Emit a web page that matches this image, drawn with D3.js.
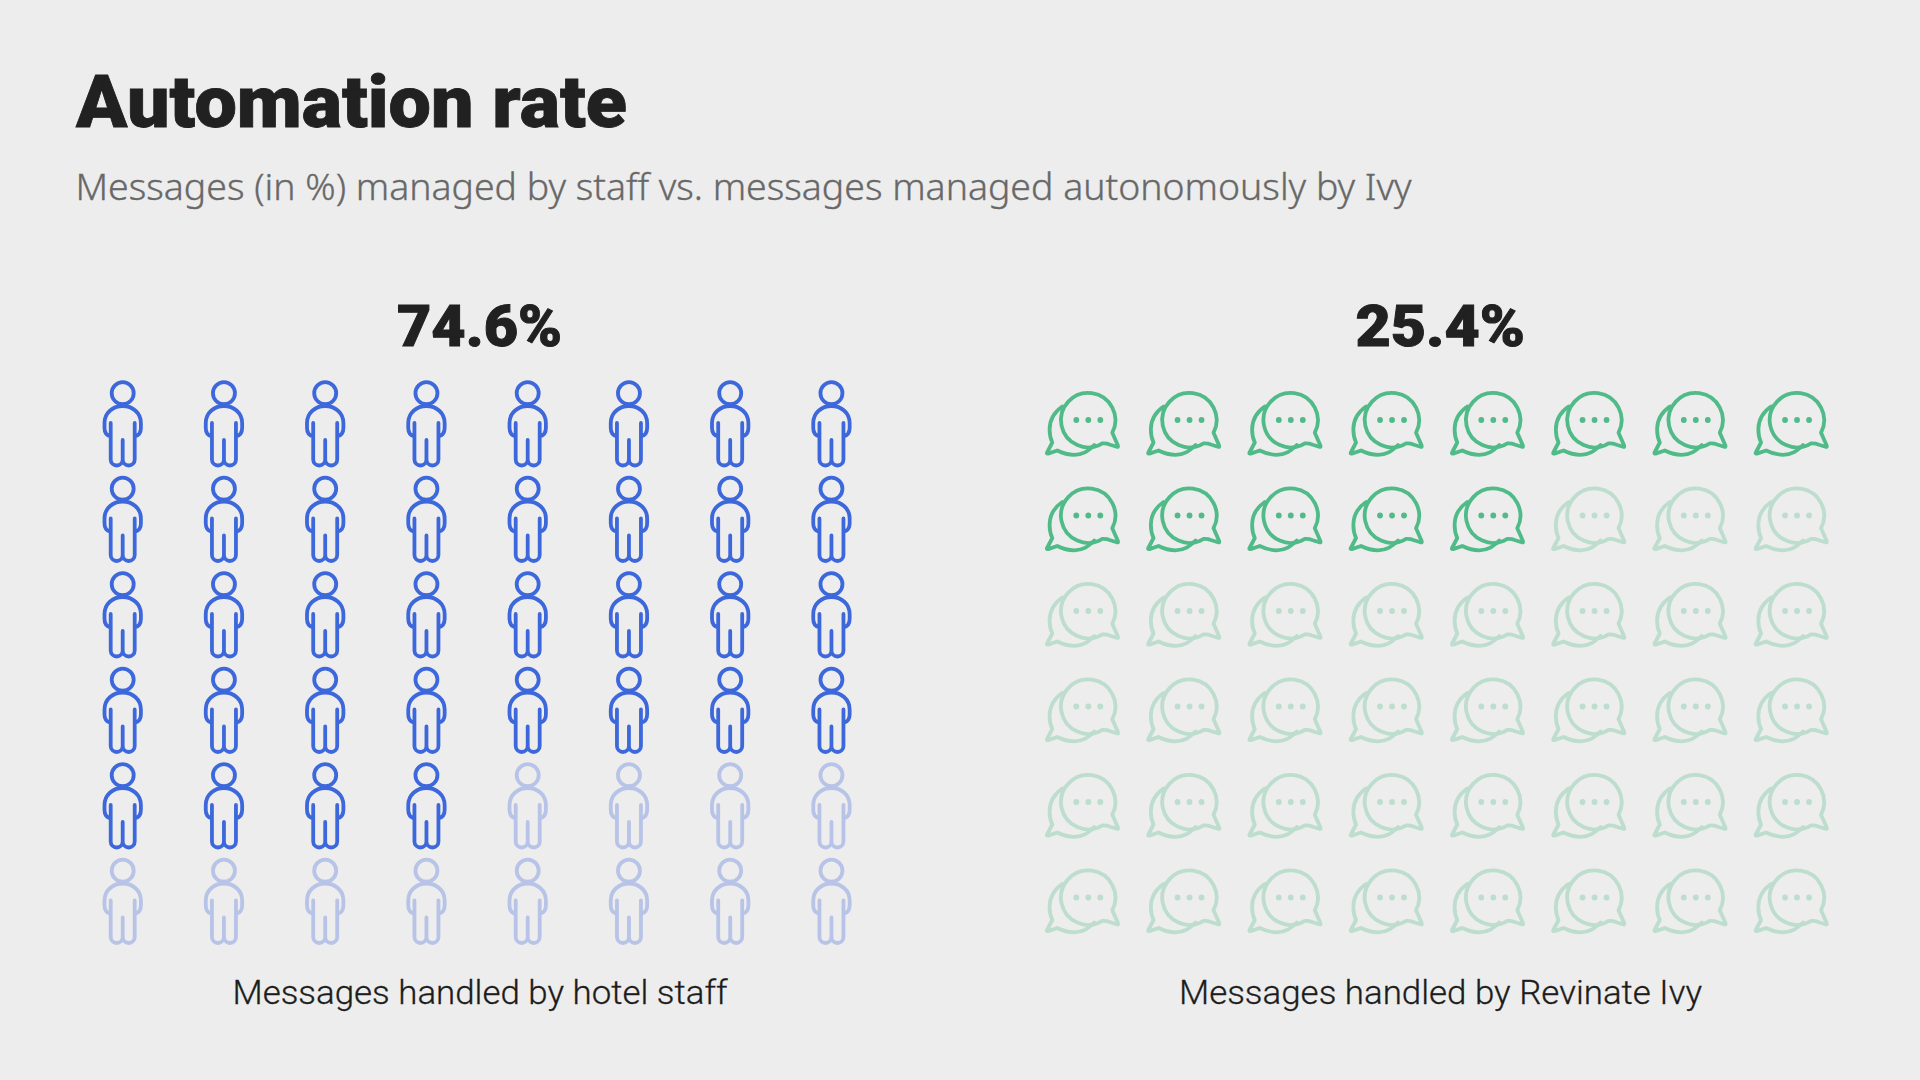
<!DOCTYPE html>
<html><head><meta charset="utf-8">
<script src="https://cdn.jsdelivr.net/npm/d3@7"></script>
<style>html,body{margin:0;padding:0;background:#ededed}svg{display:block}</style>
</head><body>
<script>
const titleText = "Automation rate";
const subtitleText = "Messages (in %) managed by staff vs. messages managed autonomously by Ivy";
const columns = d3.range(8);
const rows = d3.range(6);
const staffShare = "74.6%";
const ivyShare = "25.4%";
const staffFilled = 36;
const ivyFilled = 13;
const staffLabel = "Messages handled by hotel staff";
const ivyLabel = "Messages handled by Revinate Ivy";

const svg = d3.select("body").append("svg").attr("width",1920).attr("height",1080);
svg.append("rect").attr("width",1920).attr("height",1080).attr("fill","#ededed");

const heavy = "Roboto", body = "'Noto Sans'", mid = "Roboto";
function label(t,o){
  const s = svg.append("text").text(t).attr("x",o.x).attr("y",o.y)
    .attr("font-family",o.f).attr("font-size",o.s).attr("font-weight",o.w).attr("fill",o.c)
    .attr("stroke",o.sw?o.c:"none").attr("stroke-width",o.sw||0)
    .attr("textLength",o.l).attr("lengthAdjust","spacingAndGlyphs");
  return s;
}
label(titleText,{x:76,y:127,f:heavy,s:73,w:900,c:"#212121",l:551,sw:0.8});
label(subtitleText,{x:75.5,y:200,f:body,s:36.5,w:300,c:"#686868",l:1336,sw:0.35});
label(staffShare,{x:397,y:346,f:heavy,s:58,w:900,c:"#212121",l:165,sw:1});
label(ivyShare,{x:1355.5,y:346,f:heavy,s:58,w:900,c:"#212121",l:169.5,sw:1});
label(staffLabel,{x:232.5,y:1004,f:mid,s:34,w:300,c:"#1c1c1c",l:495,sw:0.3});
label(ivyLabel,{x:1179,y:1004,f:mid,s:34,w:300,c:"#1c1c1c",l:523,sw:0.3});

const xStaff = d3.scalePoint().domain(columns).range([122.7,122.7+7*101.25]);
const xIvy = d3.scalePoint().domain(columns).range([1088.3,1088.3+7*101.25]);
const yStaff = d3.scalePoint().domain(rows).range([381,381+5*95.5]);
const yIvy = d3.scalePoint().domain(rows).range([420,420+5*95.5]);

const personPath = "M-12,42L-12,78.5A6,6 0 0 0 0,78.5L0,59M0,78.5A6,6 0 0 0 12,78.5L12,42"
 +"M-12,55.5C-16,54.5 -18.2,52 -18.2,47L-18.2,42C-18.2,32 -10,25 0,25C10,25 18.2,32 18.2,42L18.2,47C18.2,52 16,54.5 12,55.5";
const bubbleFront = "M14,23.4A27.2,27.2 0 1 1 24,12.7L29.6,25.6Q30.2,27.4 28.4,26.8L22,24.7Q18,23.1 14,23.4Z";
const bubbleBack = "M-26,-13.5C-34,-8 -38.7,0 -38.7,9.5C-38.7,15 -37.7,19 -36,22.5L-41.2,32.5Q-42,34 -40.2,33.6L-31,30.5C-26,33 -20,34.8 -14,34.8C-5,34.8 0,31 6,25";
const dotsX = [-12,0,12];

const cellsOf = n => rows.flatMap((r,ri)=>columns.map((c,ci)=>({r,c,on:ri*columns.length+ci<n})));

const staffG = svg.append("g").selectAll("g").data(cellsOf(staffFilled)).join("g")
  .attr("transform",d=>`translate(${xStaff(d.c)},${yStaff(d.r)})`)
  .attr("fill","none").attr("stroke","#3d68dc").attr("stroke-width",3.8)
  .attr("stroke-linecap","round").attr("stroke-linejoin","round")
  .attr("opacity",d=>d.on?1:0.3);
staffG.append("circle").attr("cy",12.2).attr("r",11);
staffG.append("path").attr("d",personPath);

const ivyG = svg.append("g").selectAll("g").data(cellsOf(ivyFilled)).join("g")
  .attr("transform",d=>`translate(${xIvy(d.c)},${yIvy(d.r)})`)
  .attr("fill","none").attr("stroke","#50bb88").attr("stroke-width",3.8)
  .attr("stroke-linecap","round").attr("stroke-linejoin","round")
  .attr("opacity",d=>d.on?1:0.3);
ivyG.append("path").attr("d",bubbleFront);
ivyG.append("path").attr("d",bubbleBack);
ivyG.selectAll("circle").data(dotsX).join("circle").attr("cx",d=>d).attr("r",2.9)
  .attr("fill","#50bb88").attr("stroke","none");
</script>
</body></html>
